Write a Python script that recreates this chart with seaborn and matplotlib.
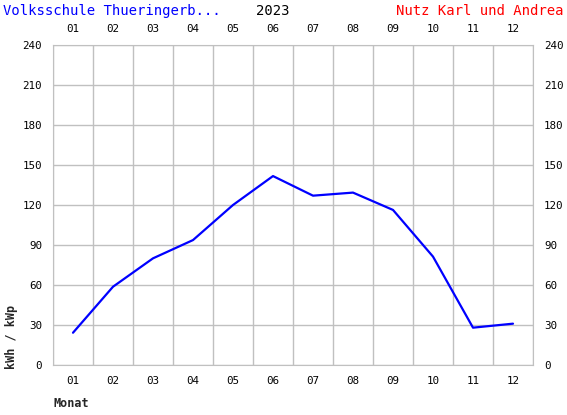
import matplotlib
matplotlib.use('Agg')
import matplotlib.pyplot as plt
import seaborn as sns
import pandas as pd

# monthly yield
months = ['01', '02', '03', '04', '05', '06', '07', '08', '09', '10', '11', '12']
values = [24.2, 58.7, 80.0, 93.7, 120.0, 141.7, 127.0, 129.3, 116.3, 81.3, 28.0, 31.0]
yticks = [0, 30, 60, 90, 120, 150, 180, 210, 240]

df = pd.DataFrame({'pos': range(len(months)), 'kwh': values})

sns.set_style('white')
plt.rcParams['font.family'] = ['DejaVu Sans Mono']

fig = plt.figure(figsize=(5.67, 4.15), dpi=100)
ax = fig.add_axes([53 / 567, 1 - 365 / 415, 480 / 567, 320 / 415])

sns.lineplot(data=df, x='pos', y='kwh', color='#0000ff', linewidth=1.6, ax=ax)

ax.set_xlim(-0.5, 11.5)
ax.set_ylim(0, 240)
ax.set_xticks(range(len(months)))
ax.set_xticklabels(months)
ax.set_yticks(yticks)
ax.set_yticklabels([str(v) for v in yticks])
ax.tick_params(length=0, labelsize=7.8, pad=8, colors='black',
               top=True, labeltop=True, right=True, labelright=True)

# grid lines sit between months
for i in range(13):
    ax.axvline(i - 0.5, color='#c0c0c0', linewidth=1, zorder=0)
for v in yticks:
    ax.axhline(v, color='#c0c0c0', linewidth=1, zorder=0)
for s in ax.spines.values():
    s.set_color('#c0c0c0')

ax.set_xlabel('')
ax.set_ylabel('')
fig.text(12 / 567, 1 - 337 / 415, 'kWh / kWp', rotation=90, ha='center', va='center',
         fontsize=8.5, fontweight='bold')
fig.text(53 / 567, 1 - 403 / 415, 'Monat', ha='left', va='center',
         fontsize=8.5, fontweight='bold')

fig.text(3 / 567, 1 - 11 / 415, 'Volksschule Thueringerb...', color='#0000ff',
         ha='left', va='center', fontsize=10)
fig.text(273 / 567, 1 - 11 / 415, '2023', color='black', ha='center', va='center', fontsize=10)
fig.text(563 / 567, 1 - 11 / 415, 'Nutz Karl und Andrea', color='#ff0000',
         ha='right', va='center', fontsize=10)

fig.savefig('out.png', dpi=100)
